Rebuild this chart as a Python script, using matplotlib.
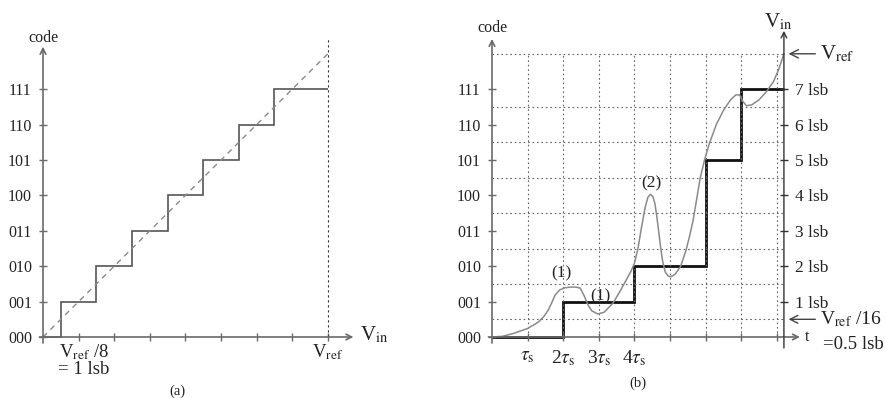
import numpy as np
import matplotlib
matplotlib.use("Agg")
from matplotlib import pyplot as plt

plt.rcParams['font.family'] = ['Liberation Serif', 'DejaVu Serif']
plt.rcParams['mathtext.fontset'] = 'stix'

# ---- data -------------------------------------------------------------
codes = ['000', '001', '010', '011', '100', '101', '110', '111']
code_levels = list(range(8))

# (a) ideal 3-bit transfer characteristic (x in lsb units)
a_edges = [0, 0.5, 1.5, 2.5, 3.5, 4.5, 5.5, 6.5, 8]
a_values = [0, 1, 2, 3, 4, 5, 6, 7]
a_ideal_x = [0, 8]
a_ideal_y = [0, 8]

# (b) successive approximation in time (x in tau_s)
b_edges = [0, 2, 4, 6, 7, 8.2]
b_values = [0, 1, 2, 5, 7]
lsb_labels = ['1 lsb', '2 lsb', '3 lsb', '4 lsb', '5 lsb', '6 lsb', '7 lsb']
tau_labels = [r'$\tau_{\rm s}$', r'2$\tau_{\rm s}$', r'3$\tau_{\rm s}$', r'4$\tau_{\rm s}$']
# analog input curve
vin_t = [0, 0.3, 0.6, 1.0, 1.3, 1.45, 1.58, 1.67, 1.77, 1.9, 2.05, 2.2, 2.35, 2.48,
         2.6, 2.7, 2.8, 2.97, 3.15, 3.4, 3.6, 3.77, 3.9, 4.0, 4.1, 4.2, 4.3, 4.38,
         4.45, 4.52, 4.58, 4.63, 4.68, 4.74, 4.8, 4.87, 4.95, 5.03, 5.15, 5.3, 5.45,
         5.55, 5.65, 5.75, 5.85, 5.97, 6.1, 6.3, 6.5, 6.7, 6.85, 6.95, 7.05, 7.15,
         7.3, 7.5, 7.7, 7.9, 8.05, 8.2]
vin_v = [0, 0.02, 0.1, 0.24, 0.42, 0.57, 0.76, 0.95, 1.18, 1.33, 1.39, 1.41, 1.41, 1.38,
         1.14, 0.9, 0.74, 0.65, 0.7, 0.96, 1.3, 1.61, 1.85, 2.08, 2.5, 3.1, 3.65, 3.95,
         4.03, 3.97, 3.75, 3.4, 3.0, 2.5, 2.1, 1.83, 1.72, 1.7, 1.78, 2.0, 2.45,
         2.85, 3.3, 3.9, 4.5, 5.0, 5.45, 6.0, 6.4, 6.7, 6.84, 6.84, 6.65, 6.53,
         6.56, 6.7, 6.92, 7.2, 7.55, 8.0]
half_levels = [0.5, 1.5, 2.5, 3.5, 4.5, 5.5, 6.5, 8]
grid_t = [1, 2, 3, 4, 5, 6, 7, 8]

AX = '#6a6a6a'
TXT = '#222222'
FS = 11.5

fig = plt.figure(figsize=(8.85, 3.98), dpi=100)
axa = fig.add_axes([0, 0, 440 / 885, 1])
axb = fig.add_axes([440 / 885, 0, 445 / 885, 1])
ylim = (-61 / 35.4, 337 / 35.4)
axa.set_xlim(-43 / 35.6, 397 / 35.6)
axb.set_xlim(-52 / 35.6, 393 / 35.6)

for ax in (axa, axb):
    ax.set_ylim(*ylim)
    for sp in ax.spines.values():
        sp.set_visible(False)
    ax.spines['left'].set_position(('data', 0))
    ax.spines['bottom'].set_position(('data', 0))
    ax.patch.set_alpha(0)
    ax.set_yticks(code_levels)
    ax.set_yticklabels(codes)
    ax.tick_params(axis='both', direction='inout', length=6, width=1, color=AX,
                   labelsize=FS, labelcolor=TXT)
    ax.tick_params(axis='y', pad=5)

# ---- (a) --------------------------------------------------------------
axa.annotate('', xy=(8.72, 0), xytext=(-0.1, 0),
             arrowprops=dict(arrowstyle='->', color=AX, lw=1.2, shrinkA=0, shrinkB=0))
axa.annotate('', xy=(0, 8.2), xytext=(0, -0.17),
             arrowprops=dict(arrowstyle='->', color=AX, lw=1.2, shrinkA=0, shrinkB=0))
axa.set_xticks(range(1, 9))
axa.set_xticklabels(['', '', '', '', '', '', '', r'V$_{\rm ref}$'], fontsize=13.5)
axa.tick_params(axis='x', pad=1)
axa.text(1.15, -0.14, r'V$_{\rm ref}$ /8' '\n= 1 lsb', ha='center', va='top',
         linespacing=0.95, fontsize=13.5, color=TXT)
axa.plot([8, 8], [0, 8.45], color='#333', lw=0.8, ls=(0, (2, 2.5)))
axa.plot(a_ideal_x, a_ideal_y, color='#8a8a8a', lw=1, ls=(0, (4, 3.5)))
axa.stairs(a_values, a_edges, baseline=None, color='#555', lw=1.2)
axa.text(0, 8.22, 'code', ha='center', va='bottom', fontsize=FS, color=TXT)
axa.text(8.9, 0.05, r'V$_{\rm in}$', ha='left', va='center', fontsize=15, color=TXT)
axa.text(3.78, -1.53, '(a)', ha='center', va='center', fontsize=FS - 1, color=TXT)

# ---- (b) --------------------------------------------------------------
for y in half_levels:
    axb.plot([0, 8.2], [y, y], color='#666', lw=0.8, ls=(0, (1.5, 2.5)))
for t in grid_t:
    axb.plot([t, t], [0, 8], color='#666', lw=0.8, ls=(0, (1.5, 2.5)))
axb.annotate('', xy=(8.65, 0), xytext=(-0.1, 0),
             arrowprops=dict(arrowstyle='->', color=AX, lw=1.2, shrinkA=0, shrinkB=0))
axb.annotate('', xy=(0, 8.42), xytext=(0, -0.17),
             arrowprops=dict(arrowstyle='->', color=AX, lw=1.2, shrinkA=0, shrinkB=0))
axb.annotate('', xy=(8.2, 8.65), xytext=(8.2, -0.31),
             arrowprops=dict(arrowstyle='->', color='#333', lw=1.0, shrinkA=0, shrinkB=0))
axb.set_xticks(grid_t)
axb.set_xticklabels(tau_labels + ['', '', '', ''], fontsize=14)
axb.tick_params(axis='x', pad=5)
axb.plot(vin_t, vin_v, color='#8a8a8a', lw=1.1)
axb.stairs(b_values, b_edges, baseline=None, color='#111', lw=2)

ax2 = axb.twinx()
ax2.set_ylim(*ylim)
for sp in ax2.spines.values():
    sp.set_visible(False)
ax2.spines['right'].set_position(('data', 8.2))
ax2.set_yticks(range(1, 8))
ax2.set_yticklabels(lsb_labels)
ax2.tick_params(axis='y', direction='inout', length=6, width=1, color='#333',
                labelsize=12.5, labelcolor=TXT, pad=5)

axb.text(0, 8.5, 'code', ha='center', va='bottom', fontsize=FS, color=TXT)
axb.text(8.05, 8.6, r'V$_{\rm in}$', ha='center', va='bottom', fontsize=15, color=TXT)
axb.text(8.8, 0.0, 't', ha='left', va='center', fontsize=FS, color=TXT)
axb.annotate(r'V$_{\rm ref}$', xy=(8.33, 8), xytext=(9.2, 8), ha='left', va='center',
             fontsize=15, color=TXT,
             arrowprops=dict(arrowstyle='->', color='#444', lw=1, shrinkA=1, shrinkB=0))
axb.annotate(r'V$_{\rm ref}$ /16', xy=(8.33, 0.5), xytext=(9.2, 0.5), ha='left', va='center',
             fontsize=14, color=TXT,
             arrowprops=dict(arrowstyle='->', color='#444', lw=1, shrinkA=1, shrinkB=0))
axb.text(10.15, -0.2, '=0.5 lsb', ha='center', va='center', fontsize=13.5, color=TXT)
axb.text(1.96, 1.81, '(1)', ha='center', va='center', fontsize=FS + 1, color=TXT)
axb.text(3.05, 1.14, '(1)', ha='center', va='center', fontsize=FS + 1, color=TXT)
axb.text(4.47, 4.35, '(2)', ha='center', va='center', fontsize=FS + 1, color=TXT)
axb.text(4.1, -1.3, '(b)', ha='center', va='center', fontsize=FS - 1, color=TXT)

fig.savefig('out.png', dpi=100)
